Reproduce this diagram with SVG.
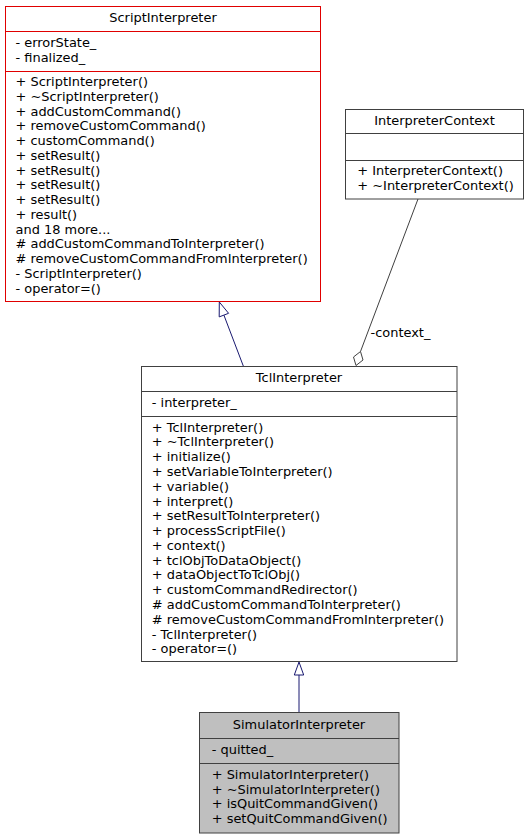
<svg xmlns="http://www.w3.org/2000/svg" width="530" height="839" viewBox="0 0 530 839">
<style>
text{font-family:"DejaVu Sans","Liberation Sans",sans-serif;font-size:12.95px;fill:#000}
.h{text-anchor:middle}
.box{fill:#fff;stroke:#404040;stroke-width:1}
.red{fill:#fff;stroke:#e00000;stroke-width:1}
.sel{fill:#bfbfbf;stroke:#404040;stroke-width:1}
.div{stroke:#404040;stroke-width:1}
.divr{stroke:#e00000;stroke-width:1}
.inh{stroke:#191970;stroke-width:1;fill:none}
.agg{stroke:#404040;stroke-width:1;fill:none}
</style>
<rect width="530" height="839" fill="#fff"/>
<g id="edges">
<path class="inh" d="M243.3,366 L223.9,315.1"/>
<polygon class="inh" fill="#fff" points="219.3,302 228.6,313.3 219.2,316.9"/>
<path class="inh" d="M299,712 L299,675"/>
<polygon class="inh" fill="#fff" points="299,662 303.7,675 294.3,675"/>
<path class="agg" d="M418,199 L360.5,351.5"/>
<polygon class="agg" fill="#fff" points="356,365.5 353.5,357 360.5,351.5 363,360"/>
<text x="370.5" y="336.5">-context_</text>
</g>
<g id="ScriptInterpreter">
<rect class="red" x="5.5" y="6.5" width="315" height="295"/>
<line class="divr" x1="5.5" y1="31.5" x2="320.5" y2="31.5"/>
<line class="divr" x1="5.5" y1="71.5" x2="320.5" y2="71.5"/>
<text class="h" x="163" y="21.6">ScriptInterpreter</text>
<text x="15.5" y="47">- errorState_</text>
<text x="15.5" y="61.6">- finalized_</text>
<text x="15.5" y="86">+ ScriptInterpreter()</text>
<text x="15.5" y="100.75">+ ~ScriptInterpreter()</text>
<text x="15.5" y="115.5">+ addCustomCommand()</text>
<text x="15.5" y="130.25">+ removeCustomCommand()</text>
<text x="15.5" y="145">+ customCommand()</text>
<text x="15.5" y="159.75">+ setResult()</text>
<text x="15.5" y="174.5">+ setResult()</text>
<text x="15.5" y="189.25">+ setResult()</text>
<text x="15.5" y="204">+ setResult()</text>
<text x="15.5" y="218.75">+ result()</text>
<text x="15.5" y="233.5">and 18 more...</text>
<text x="15.5" y="248.25"># addCustomCommandToInterpreter()</text>
<text x="15.5" y="263"># removeCustomCommandFromInterpreter()</text>
<text x="15.5" y="277.75">- ScriptInterpreter()</text>
<text x="15.5" y="292.5">- operator=()</text>
</g>
<g id="InterpreterContext">
<rect class="box" x="345.5" y="109.5" width="178" height="89.5"/>
<line class="div" x1="345.5" y1="133.5" x2="523.5" y2="133.5"/>
<line class="div" x1="345.5" y1="160.5" x2="523.5" y2="160.5"/>
<text class="h" x="434.5" y="125">InterpreterContext</text>
<text x="357.3" y="175.3">+ InterpreterContext()</text>
<text x="357.3" y="190.2">+ ~InterpreterContext()</text>
</g>
<g id="TclInterpreter">
<rect class="box" x="141.5" y="366.5" width="315.5" height="295"/>
<line class="div" x1="141.5" y1="391.5" x2="457" y2="391.5"/>
<line class="div" x1="141.5" y1="416.5" x2="457" y2="416.5"/>
<text class="h" x="299" y="381.6">TclInterpreter</text>
<text x="151.8" y="407">- interpreter_</text>
<text x="151.8" y="431.6">+ TclInterpreter()</text>
<text x="151.8" y="446.38">+ ~TclInterpreter()</text>
<text x="151.8" y="461.16">+ initialize()</text>
<text x="151.8" y="475.94">+ setVariableToInterpreter()</text>
<text x="151.8" y="490.72">+ variable()</text>
<text x="151.8" y="505.5">+ interpret()</text>
<text x="151.8" y="520.28">+ setResultToInterpreter()</text>
<text x="151.8" y="535.06">+ processScriptFile()</text>
<text x="151.8" y="549.84">+ context()</text>
<text x="151.8" y="564.62">+ tclObjToDataObject()</text>
<text x="151.8" y="579.4">+ dataObjectToTclObj()</text>
<text x="151.8" y="594.18">+ customCommandRedirector()</text>
<text x="151.8" y="608.96"># addCustomCommandToInterpreter()</text>
<text x="151.8" y="623.74"># removeCustomCommandFromInterpreter()</text>
<text x="151.8" y="638.52">- TclInterpreter()</text>
<text x="151.8" y="653.3">- operator=()</text>
</g>
<g id="SimulatorInterpreter">
<rect class="sel" x="199.5" y="712.5" width="199.5" height="120.5"/>
<line class="div" x1="199.5" y1="738.5" x2="399" y2="738.5"/>
<line class="div" x1="199.5" y1="763.5" x2="399" y2="763.5"/>
<text class="h" x="299" y="729.3">SimulatorInterpreter</text>
<text x="211.7" y="754.3">- quitted_</text>
<text x="211.7" y="779.3">+ SimulatorInterpreter()</text>
<text x="211.7" y="793.8">+ ~SimulatorInterpreter()</text>
<text x="211.7" y="808.3">+ isQuitCommandGiven()</text>
<text x="211.7" y="822.8">+ setQuitCommandGiven()</text>
</g>
</svg>
